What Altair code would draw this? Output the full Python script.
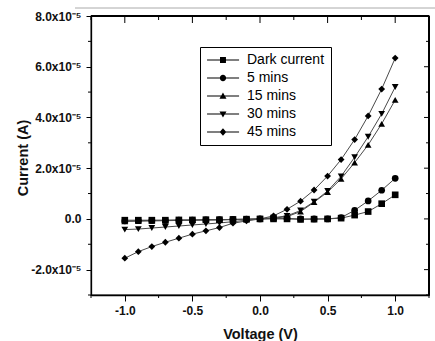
import altair as alt
import pandas as pd

# ---------------- data ----------------
voltage = [-1.0, -0.9, -0.8, -0.7, -0.6, -0.5, -0.4, -0.3, -0.2, -0.1, 0.0,
           0.1, 0.2, 0.3, 0.4, 0.5, 0.6, 0.7, 0.8, 0.9, 1.0]
series_names = ["Dark current", "5 mins", "15 mins", "30 mins", "45 mins"]

dark_current = [-0.05e-5, -0.05e-5, -0.05e-5, -0.05e-5, -0.04e-5, -0.04e-5, -0.03e-5, -0.03e-5, -0.02e-5, -0.01e-5, 0.0,
                0.0, 0.0, -0.02e-5, -0.01e-5, 0.0, 0.03e-5, 0.15e-5, 0.29e-5, 0.60e-5, 0.95e-5]
mins_5 = [-0.08e-5, -0.07e-5, -0.06e-5, -0.06e-5, -0.05e-5, -0.05e-5, -0.04e-5, -0.03e-5, -0.02e-5, -0.01e-5, 0.0,
          0.02e-5, 0.02e-5, 0.0, 0.0, 0.0, 0.05e-5, 0.34e-5, 0.71e-5, 1.13e-5, 1.60e-5]
mins_15 = [-0.10e-5, -0.09e-5, -0.08e-5, -0.07e-5, -0.06e-5, -0.05e-5, -0.04e-5, -0.04e-5, -0.03e-5, -0.02e-5, 0.0,
           0.03e-5, 0.09e-5, 0.29e-5, 0.66e-5, 1.06e-5, 1.58e-5, 2.22e-5, 2.92e-5, 3.75e-5, 4.69e-5]
mins_30 = [-0.42e-5, -0.40e-5, -0.36e-5, -0.32e-5, -0.28e-5, -0.24e-5, -0.20e-5, -0.16e-5, -0.11e-5, -0.05e-5, 0.0,
           0.05e-5, 0.12e-5, 0.33e-5, 0.68e-5, 1.10e-5, 1.68e-5, 2.43e-5, 3.24e-5, 4.14e-5, 5.20e-5]
mins_45 = [-1.55e-5, -1.29e-5, -1.09e-5, -0.92e-5, -0.76e-5, -0.60e-5, -0.47e-5, -0.34e-5, -0.17e-5, -0.08e-5, 0.0,
           0.12e-5, 0.38e-5, 0.70e-5, 1.14e-5, 1.69e-5, 2.34e-5, 3.13e-5, 4.06e-5, 5.12e-5, 6.34e-5]

x_major = [-1.0, -0.5, 0.0, 0.5, 1.0]
x_minor = [-1.25, -0.75, -0.25, 0.25, 0.75, 1.25]
y_major = [-2e-5, 0.0, 2e-5, 4e-5, 6e-5, 8e-5]
y_minor = [-3e-5, -1e-5, 1e-5, 3e-5, 5e-5, 7e-5]

all_series = [dark_current, mins_5, mins_15, mins_30, mins_45]
rows = []
for name, vals in zip(series_names, all_series):
    for v, i in zip(voltage, vals):
        rows.append({"V": v, "I": i, "series": name})
df = pd.DataFrame(rows)

# ---------------- styling ----------------
W, H = 338, 279
FONT = "Liberation Sans"
xscale = alt.Scale(domain=[-1.25, 1.25], nice=False, zero=False)
yscale = alt.Scale(domain=[-3e-5, 8e-5], nice=False, zero=False)

x_label_expr = "(datum.value < -0.001 ? '-' : '') + format(abs(datum.value), '.1f')"
y_label_expr = ("abs(datum.value) < 1e-9 ? '0.0' : "
                "((datum.value < 0 ? '-' : '') + format(abs(datum.value)*1e5, '.1f') + 'x10\u207b\u2075')")

common = dict(grid=False, domainColor="black", domainWidth=1.3, tickColor="black",
              tickWidth=1, labelFont=FONT, labelFontWeight="bold", labelFontSize=12,
              labelColor="#111", titleFont=FONT, titleFontWeight="bold",
              titleFontSize=14.5, titleColor="#111", labelFlush=False, labelOverlap=False)

x_bottom = alt.Axis(orient="bottom", values=x_major, labelExpr=x_label_expr, tickSize=6,
                    labelPadding=4, title="Voltage (V)", titleX=W / 2, titleY=43,
                    titleBaseline="alphabetic", **common)
y_left = alt.Axis(orient="left", values=y_major, labelExpr=y_label_expr, tickSize=5,
                  labelPadding=5, title="Current (A)", titleX=-64, titleY=141.5,
                  titleAngle=270, titleBaseline="alphabetic", titleAlign="center", **common)


def X(field):
    return alt.X(field, scale=xscale, axis=x_bottom)


def Y(field):
    return alt.Y(field, scale=yscale, axis=y_left)


shapes = ["square", "circle", "triangle-up", "triangle-down", "diamond"]
sizes = [44, 46, 58, 58, 66]

# legend symbols: a thin bar (the line) through the marker; 1 unit = 3.5 px
LINE = "M-1.7,-0.15H7.45V0.15H-1.7Z"
legend_paths = [
    LINE + "M2.0,-0.85H3.7V0.85H2.0Z",
    LINE + "M1.95,0A0.9,0.9 0 1,1 3.75,0A0.9,0.9 0 1,1 1.95,0Z",
    LINE + "M2.85,-1L3.85,0.75H1.85Z",
    LINE + "M2.85,1L1.85,-0.75H3.85Z",
    LINE + "M2.85,-1.1L3.8,0L2.85,1.1L1.9,0Z",
]

legend = alt.Legend(orient="none", legendX=109, legendY=31, title=None,
                    strokeColor="black", fillColor="white", padding=6,
                    labelFont=FONT, labelFontSize=14, labelColor="black",
                    labelOffset=27, rowPadding=4, symbolSize=49,
                    symbolFillColor="black", symbolStrokeColor="black",
                    symbolStrokeWidth=0, symbolOpacity=1)

# frame edges on top and right of the plot area (the axes draw bottom and left)
frame_top = alt.Chart(df).mark_rule(color="black", strokeWidth=1.3).encode(
    x=alt.value(0), x2=alt.value(W), y=alt.value(0)
)
frame_right = alt.Chart(df).mark_rule(color="black", strokeWidth=1.3).encode(
    x=alt.value(W), y=alt.value(0), y2=alt.value(H)
)

lines = alt.Chart(df).mark_line(color="#4a4a4a", strokeWidth=1).encode(
    x=X("V:Q"), y=Y("I:Q"), detail="series:N", order="V:Q",
)

points = alt.Chart(df).mark_point(filled=True, color="black", opacity=1).encode(
    x=X("V:Q"), y=Y("I:Q"),
    shape=alt.Shape("series:N", scale=alt.Scale(domain=series_names, range=shapes), legend=None),
    size=alt.Size("series:N", scale=alt.Scale(domain=series_names, range=sizes), legend=None),
)

overlay = alt.Chart(df).transform_filter("false").mark_point(
    filled=True, color="black", opacity=1
).encode(
    x=X("V:Q"), y=Y("I:Q"),
    shape=alt.Shape("series:N", scale=alt.Scale(domain=series_names, range=legend_paths), legend=legend),
)


# extra ticks: minor outward ticks on bottom/left, inward mirror ticks on top/right
def vticks(vals, y0, y1):
    return alt.Chart(pd.DataFrame({"V": vals})).mark_rule(color="black", strokeWidth=1).encode(
        x=X("V:Q"), y=alt.value(y0), y2=alt.value(y1))


def hticks(vals, x0, x1):
    return alt.Chart(pd.DataFrame({"I": vals})).mark_rule(color="black", strokeWidth=1).encode(
        y=Y("I:Q"), x=alt.value(x0), x2=alt.value(x1))


top_line = alt.Chart(df).mark_rule(color="#d4d4d4", strokeWidth=1).encode(
    x=alt.value(-16), x2=alt.value(344), y=alt.value(-8)
)

chart = alt.layer(
    lines, points, overlay,
    frame_top, frame_right,
    vticks(x_minor, H, H + 3),
    hticks(y_minor, 0, -3),
    vticks(x_major, 0, 7), vticks(x_minor, 0, 4),
    hticks(y_major, W, W - 5), hticks(y_minor, W, W - 3),
    top_line,
).resolve_scale(
    shape="independent", size="independent"
).properties(
    width=W, height=H,
    padding={"left": 91, "top": 16, "right": 6, "bottom": 46},
    autosize=alt.AutoSizeParams(type="none"),
    background="white",
).configure_view(stroke="black", strokeWidth=1.3)

chart.save("out.html", embed_options={"renderer": "svg", "actions": False})
